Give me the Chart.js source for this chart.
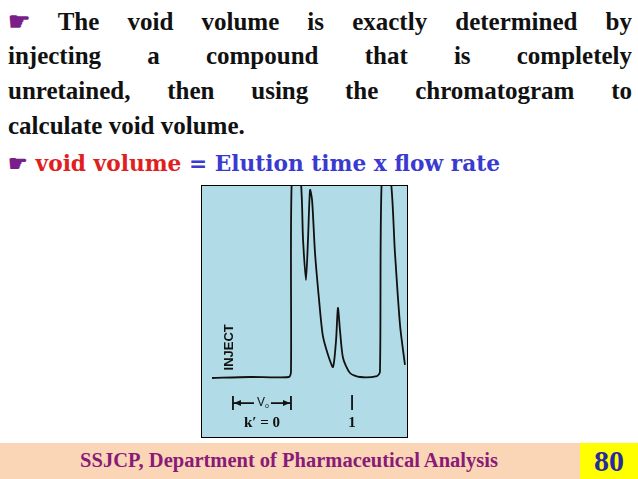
<!DOCTYPE html><html><head><meta charset="utf-8">
<script src="https://cdn.jsdelivr.net/npm/chart.js@4"></script>
<style>
body{margin:0;width:638px;height:479px;background:#fff;position:relative;overflow:hidden;font-family:"Liberation Serif",serif;}
.l{position:absolute;left:8px;width:624px;font-weight:bold;font-size:25px;color:#111;text-align:justify;text-align-last:justify;white-space:nowrap;}
.b{color:#7a1f8a}
#box{position:absolute;left:201px;top:185px;width:205px;height:251px;border:1px solid #000;background:#b1dbe6;}
#foot{position:absolute;left:0;top:443px;width:638px;height:36px;background:#fad5b6;}
#ft{position:absolute;left:0;width:578px;top:449px;text-align:center;color:#8a1a78;font-weight:bold;font-size:20.5px;}
#pg{position:absolute;left:580px;top:443px;width:58px;height:36px;background:#ffff00;color:#2a2aa0;font-weight:bold;font-size:30px;text-align:center;line-height:36px;}
</style></head><body>
<div class="l" style="top:7px"><span class="b">☛</span> The void volume is exactly determined by</div>
<div class="l" style="top:42px">injecting a compound that is completely</div>
<div class="l" style="top:77px">unretained, then using the chromatogram to</div>
<div class="l" style="top:112px;text-align-last:left">calculate void volume.</div>
<div class="l" style="top:151px;text-align-last:left;font-size:21.7px;font-family:'DejaVu Serif',serif"><span class="b">☛</span> <span style="color:#e0201e">void volume</span> <span style="color:#3a3ad0">= Elution time x flow rate</span></div>
<div id="box"><canvas id="c" width="205" height="251"></canvas></div>
<div id="foot"></div><div id="ft">SSJCP, Department of Pharmaceutical Analysis</div><div id="pg">80</div>
<script>
const time=[4.9,23.4,42.4,43.4,43.9,47.8,49.3,50.7,51.7,52.7,53.7,55.1,57.1,58.9,61.5,63.9,65.4,66.3,67.3,68.8,72.2,77.1,85.4,86.8,87.8,91.7,94.1,96.6,99.0];
const signal=[23.5,23.9,23.9,25.9,105,105,78.5,62.5,78.5,98.4,94.4,73.7,54.6,40.6,32.7,27.9,38.6,51.4,42.6,31.5,25.5,23.9,24.3,25.9,105,105,73.7,44.6,28.7];
const labels={inject:"INJECT",v0:"V",k0:"k′ = 0",one:"1"};
const marks={v0Start:15.1,v0End:43.4,one:73.2};
const ann={id:'ann',afterDatasetsDraw(ch){
 const c=ch.ctx,x=ch.scales.x,y=ch.scales.y;
 c.save();c.fillStyle='#111';c.strokeStyle='#111';c.lineWidth=1.8;
 c.font='bold 13px "Liberation Sans Narrow","Liberation Sans",sans-serif';
 c.save();c.translate(x.getPixelForValue(13.2),y.getPixelForValue(26.5));c.rotate(-Math.PI/2);c.textAlign='left';c.textBaseline='middle';c.fillText(labels.inject,0,0);c.restore();
 const ya=y.getPixelForValue(13.5),xa=x.getPixelForValue(marks.v0Start),xb=x.getPixelForValue(marks.v0End),xm=(xa+xb)/2;
 c.beginPath();c.moveTo(xa,ya-7);c.lineTo(xa,ya+7);c.moveTo(xb,ya-7);c.lineTo(xb,ya+7);
 c.moveTo(xa,ya);c.lineTo(xm-8,ya);c.moveTo(xm+9,ya);c.lineTo(xb,ya);c.stroke();
 c.beginPath();c.moveTo(xa+1,ya);c.lineTo(xa+8,ya-3);c.lineTo(xa+8,ya+3);c.fill();
 c.beginPath();c.moveTo(xb-1,ya);c.lineTo(xb-8,ya-3);c.lineTo(xb-8,ya+3);c.fill();
 c.font='12px "Liberation Sans",sans-serif';c.textAlign='center';c.textBaseline='middle';c.fillText(labels.v0,xm-1,ya);
 c.font='7px sans-serif';c.fillText('o',xm+5,ya+3);
 const xo=x.getPixelForValue(marks.one);c.beginPath();c.moveTo(xo,ya-8);c.lineTo(xo,ya+7);c.stroke();
 c.font='bold 15px "Liberation Serif",serif';c.fillText(labels.k0,(xa+xb)/2,y.getPixelForValue(5.6));
 c.fillText(labels.one,xo,y.getPixelForValue(5.6));
 c.restore();}};
new Chart(document.getElementById('c'),{type:'line',data:{datasets:[{data:time.map((t,i)=>({x:t,y:signal[i]})),borderColor:'#111',borderWidth:1.8,pointRadius:0,tension:0.25,fill:false}]},
options:{responsive:false,animation:false,layout:{padding:0},plugins:{legend:{display:false},tooltip:{enabled:false}},
scales:{x:{type:'linear',min:0,max:100,display:false},y:{min:0,max:100,display:false}}},plugins:[ann]});
</script></body></html>
